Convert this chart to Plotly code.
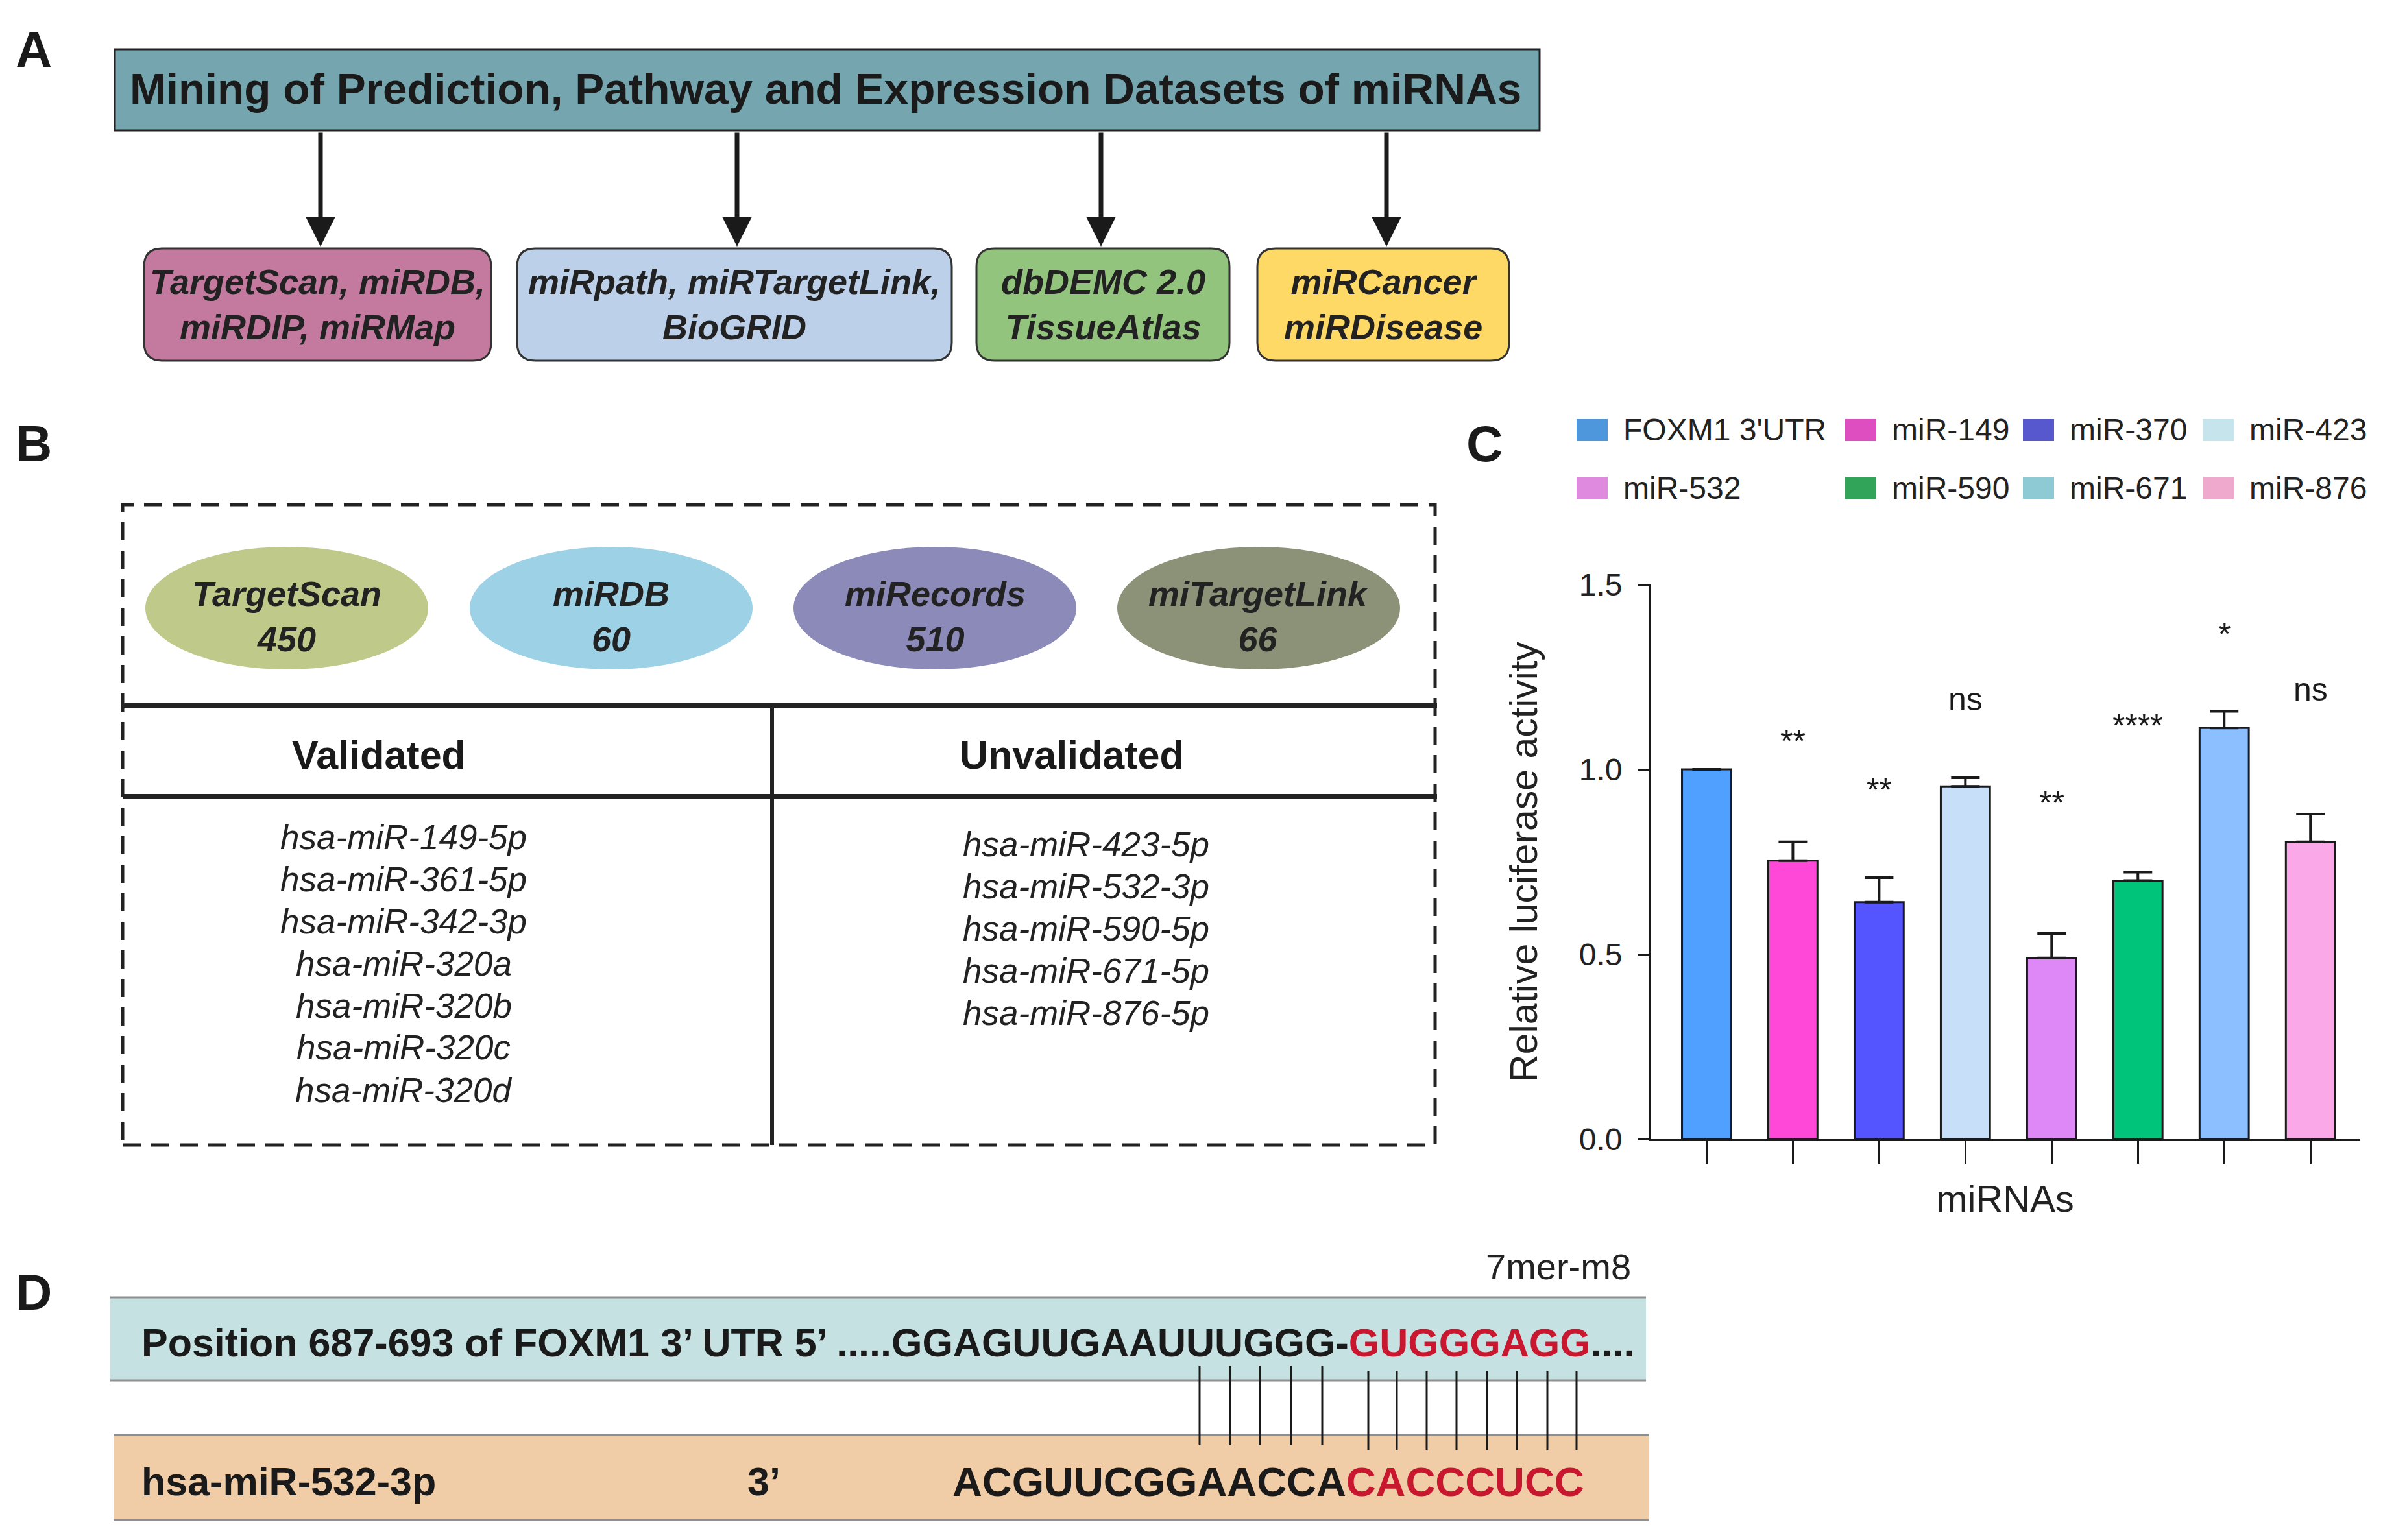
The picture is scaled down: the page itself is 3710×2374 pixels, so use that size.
import plotly.graph_objects as go

# ---------------- data (panel C) ----------------
categories = ["FOXM1 3'UTR", "miR-149", "miR-370", "miR-423",
              "miR-532", "miR-590", "miR-671", "miR-876"]
luciferase = [1.00, 0.753, 0.641, 0.954, 0.490, 0.699, 1.112, 0.804]
error_up = [0.0, 0.051, 0.066, 0.023, 0.066, 0.023, 0.045, 0.075]
significance = ["", "**", "**", "ns", "**", "****", "*", "ns"]
sig_label_y = [None, 1.075, 0.943, 1.19, 0.908, 1.118, 1.365, 1.215]
bar_colors = ["#4FA0FF", "#FF48D8", "#5555FF", "#C8DFFA",
              "#DE88F8", "#00C47A", "#8CBFFF", "#FBA8E8"]
legend_colors = ["#4E97DC", "#DF4EC0", "#5858CE", "#C6E4EC",
                 "#E08ADF", "#32A45A", "#8ECAD3", "#EEA9CD"]
y_ticks = [0.0, 0.5, 1.0, 1.5]

# ---------------- text content (panels A, B, D) ----------------
header_text = "Mining of Prediction, Pathway and Expression Datasets of miRNAs"
database_groups = ["TargetScan, miRDB,<br>miRDIP, miRMap",
                   "miRpath, miRTargetLink,<br>BioGRID",
                   "dbDEMC 2.0<br>TissueAtlas",
                   "miRCancer<br>miRDisease"]
database_colors = ["#C47A9F", "#BCD0EA", "#93C47D", "#FFD966"]

tools = ["TargetScan", "miRDB", "miRecords", "miTargetLink"]
tool_counts = [450, 60, 510, 66]
tool_colors = ["#BEC98A", "#9DD1E5", "#8C8AB8", "#8B9277"]

validated = ["hsa-miR-149-5p", "hsa-miR-361-5p", "hsa-miR-342-3p",
             "hsa-miR-320a", "hsa-miR-320b", "hsa-miR-320c", "hsa-miR-320d"]
unvalidated = ["hsa-miR-423-5p", "hsa-miR-532-3p", "hsa-miR-590-5p",
               "hsa-miR-671-5p", "hsa-miR-876-5p"]

target_prefix = "Position 687-693 of FOXM1 3\u2019 UTR 5\u2019 .....GGAGUUGAAUUUGGG-"
target_seed = "GUGGGAGG"
target_suffix = "...."
mirna_name = "hsa-miR-532-3p"
mirna_end = "3\u2019"
mirna_body = "ACGUUCGGAACCA"
mirna_seed = "CACCCUCC"
site_type = "7mer-m8"

# ---------------- helpers ----------------
W, H = 3710, 2374
FONT = "Arial, Liberation Sans, Helvetica, sans-serif"
INK = "#1a1a1a"
RED = "#C8172F"


def px(x):
    return x / W


def py(y):
    return 1 - y / H


def rounded_path(x0, y0, x1, y1, r):
    rx, ry = r / W, r / H
    X0, X1, Y0, Y1 = px(x0), px(x1), py(y0), py(y1)
    return (f"M {X0+rx},{Y0} L {X1-rx},{Y0} Q {X1},{Y0} {X1},{Y0-ry} "
            f"L {X1},{Y1+ry} Q {X1},{Y1} {X1-rx},{Y1} L {X0+rx},{Y1} "
            f"Q {X0},{Y1} {X0},{Y1+ry} L {X0},{Y0-ry} Q {X0},{Y0} {X0+rx},{Y0} Z")


shapes = []
annotations = []


def text(x, y, s, size, weight="normal", style="normal", color=INK,
         xanchor="center", yanchor="middle", align="center"):
    annotations.append(dict(x=px(x), y=py(y), xref="paper", yref="paper",
                            text=s, showarrow=False, xanchor=xanchor,
                            yanchor=yanchor, align=align,
                            font=dict(family=FONT, size=size, color=color,
                                      weight=weight, style=style)))


def rect(x0, y0, x1, y1, fill, line_color=INK, line_width=0, dash="solid"):
    shapes.append(dict(type="rect", xref="paper", yref="paper",
                       x0=px(x0), x1=px(x1), y0=py(y1), y1=py(y0),
                       fillcolor=fill,
                       line=dict(color=line_color, width=line_width, dash=dash)))


def line(x0, y0, x1, y1, width, color=INK):
    shapes.append(dict(type="line", xref="paper", yref="paper",
                       x0=px(x0), x1=px(x1), y0=py(y0), y1=py(y1),
                       line=dict(color=color, width=width)))


# ---------------- panel labels ----------------
for lab, (lx, ly) in zip("ABCD", [(52, 77), (52, 684), (2288, 684), (52, 1992)]):
    text(lx, ly, lab, 78, weight="bold")

# ---------------- panel A ----------------
rect(177, 76, 2373, 201, "#75A5AE", line_color="#222222", line_width=3)
text(1272, 137, header_text, 67.5, weight="bold")

arrow_x = [494, 1136, 1697, 2137]
for ax_ in arrow_x:
    annotations.append(dict(x=px(ax_), y=py(380), xref="paper", yref="paper",
                            ax=0, ay=-(380 - 203), axref="pixel", ayref="pixel",
                            text="", showarrow=True, arrowhead=2, arrowsize=1.3,
                            arrowwidth=7, arrowcolor=INK, standoff=0))

box_x = [(222, 757), (797, 1467), (1505, 1895), (1938, 2326)]
for (x0, x1), label, col in zip(box_x, database_groups, database_colors):
    shapes.append(dict(type="path", xref="paper", yref="paper",
                       path=rounded_path(x0, 383, x1, 556, 28),
                       fillcolor=col, line=dict(color="#333333", width=3)))
    text((x0 + x1) / 2, 469, label, 54, weight="bold", style="italic",
         color="#222222")

# ---------------- panel B ----------------
rect(189, 778, 2212, 1765, "rgba(0,0,0,0)", line_color="#222222",
     line_width=5, dash="28px,16px")
ell_cx = [442, 942, 1441, 1940]
for cx, name, n, col in zip(ell_cx, tools, tool_counts, tool_colors):
    shapes.append(dict(type="circle", xref="paper", yref="paper",
                       x0=px(cx - 218), x1=px(cx + 218),
                       y0=py(1032), y1=py(843), fillcolor=col,
                       line=dict(width=0)))
    text(cx, 950, f"{name}<br>{n}", 54, weight="bold", style="italic",
         color="#222222")

line(189, 1088, 2215, 1088, 8, "#222222")
line(189, 1228, 2215, 1228, 8, "#222222")
line(1190, 1088, 1190, 1765, 6, "#222222")
text(584, 1164, "Validated", 61, weight="bold")
text(1652, 1164, "Unvalidated", 61, weight="bold")
for i, name in enumerate(validated):
    text(622, 1290 + i * 65, name, 53, style="italic", color="#222222")
for i, name in enumerate(unvalidated):
    text(1674, 1301 + i * 65.2, name, 53, style="italic", color="#222222")

# ---------------- panel C legend ----------------
leg_col_x = [2430, 2844, 3118, 3395]
leg_row_y = [663, 752]
for i, (name, col) in enumerate(zip(categories, legend_colors)):
    r, c = divmod(i, 4)
    x0 = leg_col_x[c]
    yc = leg_row_y[r]
    rect(x0, yc - 17, x0 + 48, yc + 17, col)
    text(x0 + 70, yc, name, 48, xanchor="left", color="#222222")

# significance labels (data coords)
for cat, lab, yv in zip(categories, significance, sig_label_y):
    if lab:
        annotations.append(dict(x=cat, y=yv, xref="x", yref="y", text=lab,
                                showarrow=False, xanchor="center",
                                yanchor="middle",
                                font=dict(family=FONT, size=50, color=INK)))

# ---------------- panel D ----------------
rect(170, 2000, 2537, 2128, "#C6E1E2")
line(170, 2000, 2537, 2000, 3, "#8f8f8f")
line(170, 2128, 2537, 2128, 3, "#8f8f8f")
rect(175, 2212, 2541, 2343, "#F0CDA7")
line(175, 2212, 2541, 2212, 3, "#8f8f8f")
line(175, 2343, 2541, 2343, 3, "#8f8f8f")

text(2402, 1952, site_type, 56, color="#222222")
text(216, 2070, f"{target_prefix}<span style='color:{RED}'>{target_seed}</span>{target_suffix}",
     61, weight="bold", xanchor="left")
text(216, 2284, mirna_name, 61, weight="bold", xanchor="left")
text(1150, 2284, mirna_end, 61, weight="bold", xanchor="left")
text(1466, 2284, f"{mirna_body}<span style='color:{RED}'>{mirna_seed}</span>",
     63.5, weight="bold", xanchor="left")

pair_group1 = [1849, 1896, 1942, 1990, 2038]
pair_group2 = [2109, 2153, 2199, 2245, 2292, 2338, 2385, 2430]
for xl in pair_group1:
    line(xl, 2105, xl, 2227, 3)
for xl in pair_group2:
    line(xl, 2113, xl, 2236, 3)

# ---------------- figure ----------------
fig = go.Figure()
fig.add_trace(go.Bar(
    x=categories, y=luciferase, width=0.57,
    marker=dict(color=bar_colors, line=dict(color=INK, width=3)),
    error_y=dict(type="data", symmetric=False, array=error_up,
                 arrayminus=[0] * len(error_up), color=INK,
                 thickness=4, width=22),
    showlegend=False, hoverinfo="x+y"))

fig.update_layout(
    template="none",
    width=W, height=H,
    margin=dict(l=0, r=0, t=0, b=0, pad=0, autoexpand=False),
    paper_bgcolor="white", plot_bgcolor="white",
    font=dict(family=FONT, color=INK),
    showlegend=False,
    shapes=shapes, annotations=annotations,
    xaxis=dict(domain=[px(2544), px(3637)], type="category",
               range=[-0.65, 7.57], showticklabels=False, automargin=False,
               ticks="outside", ticklen=35, tickwidth=3, tickcolor=INK,
               showline=True, linewidth=3, linecolor=INK,
               showgrid=False, zeroline=False,
               title=dict(text="miRNAs", standoff=35,
                          font=dict(family=FONT, size=58, color="#222222"))),
    yaxis=dict(domain=[py(1756), py(901)], range=[0, 1.5], automargin=False,
               tickvals=y_ticks, tickformat=".1f",
               ticks="outside", ticklen=17, tickwidth=3, tickcolor=INK,
               ticklabelstandoff=14,
               tickfont=dict(family=FONT, size=48, color="#222222"),
               showline=True, linewidth=3, linecolor=INK,
               showgrid=False, zeroline=False,
               title=dict(text="Relative luciferase activity", standoff=46,
                          font=dict(family=FONT, size=59, color="#222222"))),
)

fig.write_html("out.html", config={"displayModeBar": False},
               post_script="document.body.style.margin='0';")
